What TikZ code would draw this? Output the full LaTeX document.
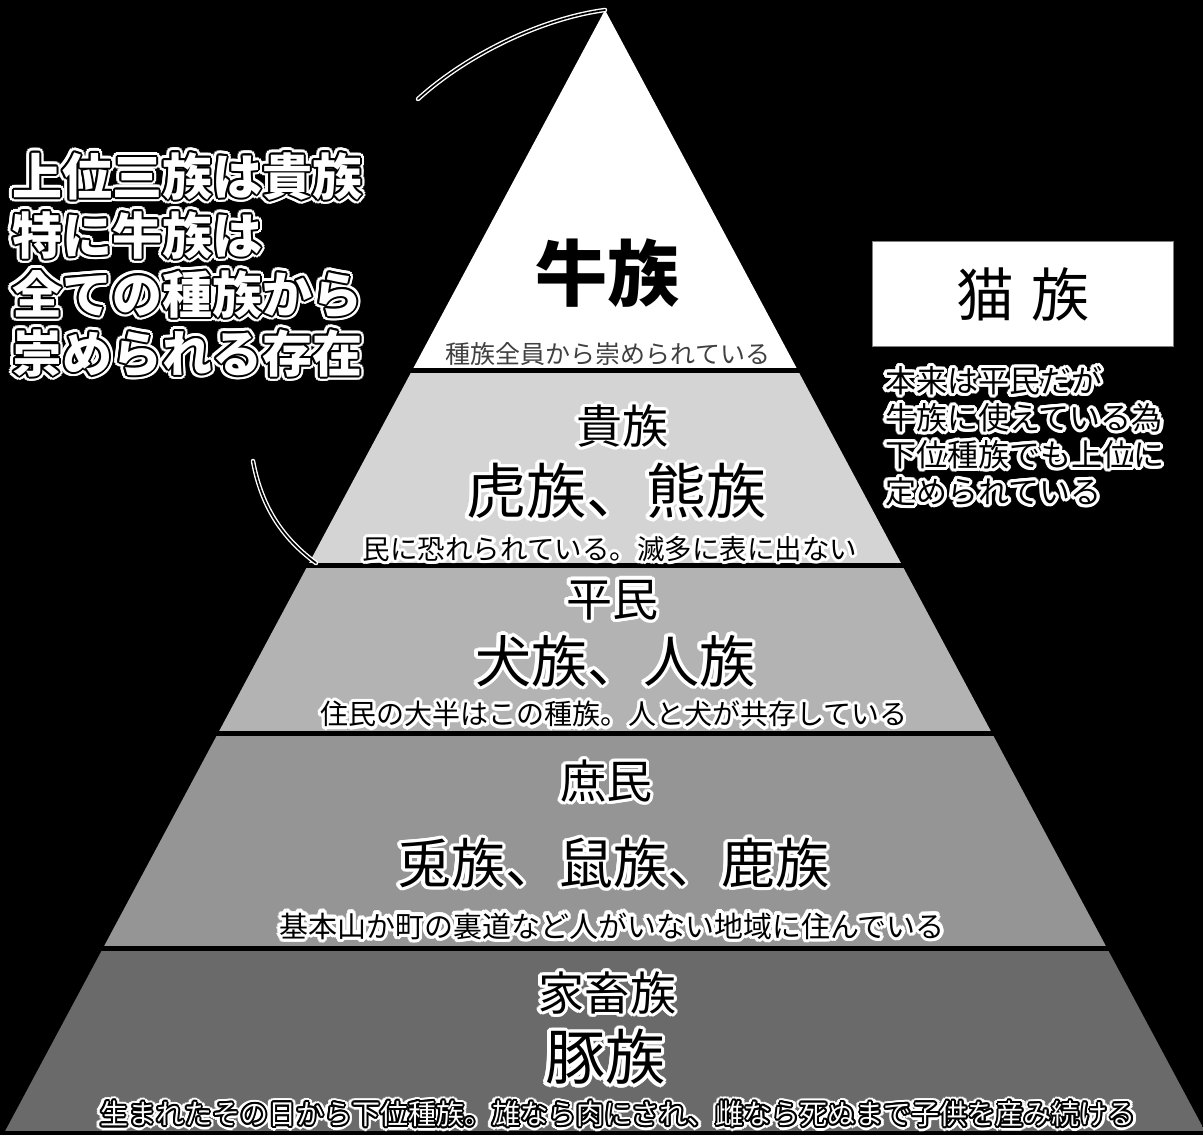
\documentclass[tikz,border=0pt]{standalone}
\usepackage{fontspec}
\newfontfamily\jp{Noto Sans CJK JP}
\newcommand\jfs[2]{\fontsize{#1}{#2}\selectfont}
\definecolor{layA}{HTML}{FFFFFF}
\definecolor{layB}{HTML}{D4D4D4}
\definecolor{layC}{HTML}{B3B3B3}
\definecolor{layD}{HTML}{959595}
\definecolor{layE}{HTML}{6A6A6A}
\tikzset{
  lay/.style={inner sep=0pt, align=center},
  arcline/.style={draw=white, double=black, line width=1.4pt, double distance=1.7pt, line cap=round},
  catbox/.style={draw=gray, line width=1pt, fill=white, minimum width=301pt, minimum height=105pt, inner sep=0pt},
}
% black text with white halo: name, position, options, text
\newcommand\glowK[4]{%
  \foreach \ang in {0,22.5,...,337.5}{%
    \node[lay,#3,text=white] at ([shift={(\ang:3.4pt)}]#2) {#4};
    \node[lay,#3,text=white] at ([shift={(\ang:1.7pt)}]#2) {#4};}
  \node[lay,#3,text=black] (#1) at (#2) {#4};}
% white text, black outline, white halo
\newcommand\outW[4]{%
  \foreach \ang in {0,22.5,...,337.5}{%
    \node[lay,#3,text=white] at ([shift={(\ang:4.6pt)}]#2) {#4};
    \node[lay,#3,text=white] at ([shift={(\ang:3.2pt)}]#2) {#4};}
  \foreach \ang in {0,30,...,330}{%
    \node[lay,#3,text=black] at ([shift={(\ang:1.9pt)}]#2) {#4};
    \node[lay,#3,text=black] at ([shift={(\ang:1.0pt)}]#2) {#4};}
  \node[lay,#3,text=white] (#1) at (#2) {#4};}
\begin{document}
\begin{tikzpicture}[x=1pt,y=-1pt]
\fill[black] (0,0) rectangle (1203,1135);
\useasboundingbox (0,0) rectangle (1203,1135);
% pyramid
\coordinate (apex) at (605,10);
\coordinate (bl) at (3,1135);
\coordinate (br) at (1207,1135);
\begin{scope}
  \clip (apex) -- (bl) -- (br) -- cycle;
  \fill[layA] (0,0) rectangle (1203,368);
  \fill[layB] (0,373) rectangle (1203,563);
  \fill[layC] (0,568) rectangle (1203,731);
  \fill[layD] (0,736) rectangle (1203,946);
  \fill[layE] (0,951) rectangle (1203,1131);
\end{scope}
% arcs
\coordinate (a1s) at (418,99);
\coordinate (a2s) at (253,461);
\coordinate (a2e) at (316,563);
\draw[arcline] (a1s) .. controls (470,52) and (545,18) .. (apex);
\draw[arcline] (a2s) .. controls (262,510) and (285,540) .. (a2e);
% layer 1
\node[lay, font=\jp\bfseries\jfs{72}{72}] (ushi) at (607,273) {牛族};
\node[lay, font=\jp\jfs{25}{25}, text=black!75] (ushisub) at (608,354) {種族全員から崇められている};
% layer 2
\glowK{kizoku}{622,426}{font=\jp\jfs{46}{46}}{貴族}
\glowK{tora}{616,491}{font=\jp\jfs{60}{60}}{虎族、熊族}
\glowK{torasub}{610,549}{font=\jp\jfs{27.5}{27.5}}{民に恐れられている。滅多に表に出ない}
% layer 3
\glowK{heimin}{612,600}{font=\jp\jfs{46}{46}}{平民}
\glowK{inu}{615,661}{font=\jp\jfs{56}{56}}{犬族、人族}
\glowK{inusub}{614,714}{font=\jp\jfs{28}{28}}{住民の大半はこの種族。人と犬が共存している}
% layer 4
\glowK{shomin}{606,781}{font=\jp\jfs{46}{46}}{庶民}
\glowK{usagi}{613,863}{font=\jp\jfs{54}{54}}{兎族、鼠族、鹿族}
\glowK{usagisub}{612,926}{font=\jp\jfs{29}{29}}{基本山か町の裏道など人がいない地域に住んでいる}
% layer 5
\glowK{kachiku}{607,993}{font=\jp\jfs{46}{46}}{家畜族}
\glowK{buta}{605,1057}{font=\jp\jfs{60}{60}}{豚族}
\outW{butasub}{618,1114}{font=\jp\jfs{28}{28}}{生まれたその日から下位種族。雄なら肉にされ、雌なら死ぬまで子供を産み続ける}
% left note
\outW{leftnote}{12,152}{font=\jp\bfseries\jfs{50}{59}, anchor=north west, align=left}{上位三族は貴族\\特に牛族は\\全ての種族から\\崇められる存在}
% cat box
\node[catbox, anchor=north west] (catbox) at (872,241) {};
\node[lay, font=\jp\jfs{58}{58}] (neko) at (catbox.center) {猫\hspace{18pt}族};
\glowK{catnote}{885,366}{font=\jp\jfs{31}{37}, anchor=north west, align=left}{本来は平民だが\\牛族に使えている為\\下位種族でも上位に\\定められている}
\end{tikzpicture}
\end{document}
